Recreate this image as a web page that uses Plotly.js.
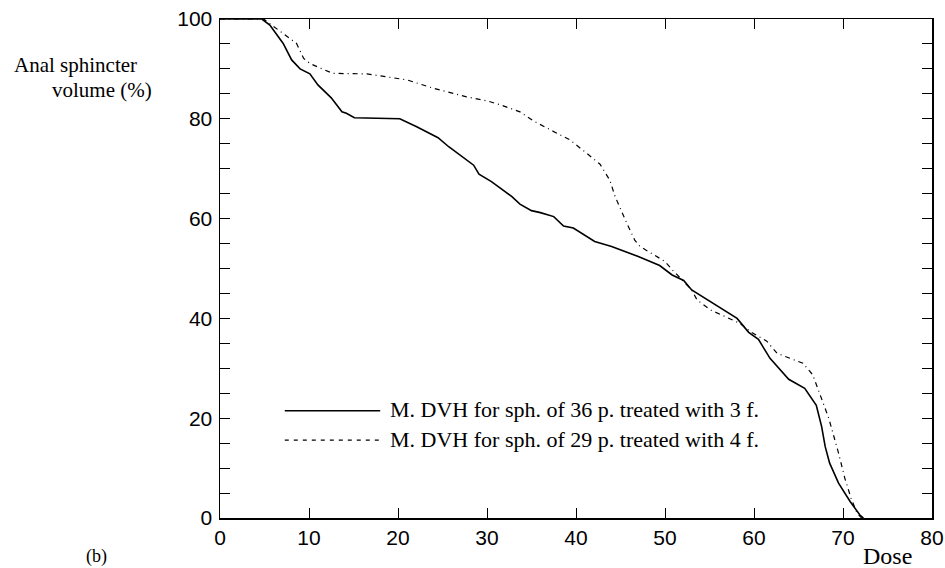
<!DOCTYPE html>
<html>
<head>
<meta charset="utf-8">
<script src="https://cdn.plot.ly/plotly-3.0.1.min.js"></script>
<style>html,body{margin:0;padding:0;background:#fff;}#chart{width:945px;height:568px;}</style>
</head>
<body>
<div id="chart"></div>
<script>
// Mean DVH, 3 fields (solid)
const dose3f = [0, 4.7, 5.6, 7.1, 8.05, 9.0, 10.1, 11.0, 12.5, 13.7, 14.2, 15.1, 20.2, 22.1, 24.5, 25.7, 28.5, 29.1, 30.5, 32.8, 33.7, 35.0, 36.0, 37.5, 38.6, 39.7, 42.1, 44.0, 47.0, 49.4, 50.8, 52.1, 53.0, 55.4, 58.1, 59.4, 60.5, 61.8, 63.9, 65.7, 67.0, 67.6, 68.0, 68.5, 69.5, 70.8, 71.9, 72.3];
const vol3f  = [100, 100, 98.8, 95.1, 91.8, 90.0, 89.0, 86.8, 84.2, 81.4, 81.1, 80.2, 80.0, 78.4, 76.2, 74.4, 70.7, 68.9, 67.4, 64.4, 62.9, 61.6, 61.2, 60.4, 58.5, 58.1, 55.4, 54.4, 52.4, 50.6, 48.7, 47.6, 45.7, 43.0, 40.0, 37.2, 35.8, 32.0, 27.8, 26.0, 22.6, 18.3, 14.3, 11.0, 7.0, 3.3, 0.6, 0];
// Mean DVH, 4 fields (dash-dot)
const dose4f = [0, 4.9, 5.8, 8.6, 9.4, 10.1, 11.2, 12.7, 16.5, 18.7, 21.0, 24.0, 27.7, 30.0, 31.5, 33.7, 35.2, 37.1, 39.3, 41.2, 42.7, 43.8, 44.4, 45.7, 46.6, 47.2, 48.7, 50.0, 50.9, 52.0, 53.0, 53.6, 55.1, 56.6, 58.4, 59.8, 61.4, 62.6, 63.7, 65.5, 66.6, 67.4, 68.4, 69.5, 70.2, 70.9, 71.6, 72.1];
const vol4f  = [100, 100, 98.8, 95.1, 92.1, 91.1, 90.2, 89.1, 89.0, 88.4, 87.8, 86.1, 84.4, 83.6, 82.8, 81.4, 79.6, 77.8, 75.8, 73.1, 70.9, 67.7, 64.4, 59.1, 55.7, 54.4, 52.7, 51.4, 49.6, 47.5, 45.7, 43.7, 41.7, 40.5, 39.0, 37.1, 35.5, 33.0, 32.3, 31.0, 28.7, 25.0, 20.0, 13.0, 8.0, 4.0, 0.9, 0];

const legendLabels = ["M. DVH for sph. of 36 p. treated with 3 f.", "M. DVH for sph. of 29 p. treated with 4 f."];
const xTitle = "Dose";
const yTitleLines = ["Anal sphincter", "volume (%)"];
const panelLabel = "(b)";

const serif = "Liberation Serif, Times New Roman, serif";
const sans = "Liberation Sans, Arial, Helvetica, sans-serif";

const traces = [
  {x: dose3f, y: vol3f, type: "scatter", mode: "lines", name: legendLabels[0],
   line: {color: "#000", width: 1.6}},
  {x: dose4f, y: vol4f, type: "scatter", mode: "lines", name: legendLabels[1],
   line: {color: "#000", width: 1.2, dash: "5px,4px,1px,4px"}}
];

const axisCommon = {
  showline: true, linecolor: "#000", linewidth: 1.5, mirror: "allticks",
  ticks: "inside", ticklen: 10, tickwidth: 1, tickcolor: "#000",
  showgrid: false, zeroline: false,
  tickfont: {family: sans, size: 21, color: "#000"}
};

const layout = {
  width: 945, height: 568,
  margin: {l: 220, r: 13, t: 19, b: 50},
  paper_bgcolor: "#fff", plot_bgcolor: "#fff",
  showlegend: false,
  xaxis: Object.assign({}, axisCommon, {range: [0, 80], dtick: 10, tick0: 0}),
  yaxis: Object.assign({}, axisCommon, {range: [0, 100], dtick: 20, tick0: 0, ticklabelstandoff: 2,
    minor: {dtick: 5, ticks: "inside", ticklen: 10, tickcolor: "#000", tickwidth: 1, showgrid: false}}),
  shapes: [
    {type: "line", xref: "paper", yref: "paper", x0: 0.091, x1: 0.225, y0: 0.215, y1: 0.215,
     line: {color: "#000", width: 1.4}},
    {type: "line", xref: "paper", yref: "paper", x0: 0.091, x1: 0.225, y0: 0.156, y1: 0.156,
     line: {color: "#000", width: 1.2, dash: "4px,5px"}}
  ],
  annotations: [
    {text: legendLabels[0], xref: "paper", yref: "paper", x: 0.236, y: 0.217, xanchor: "left", yanchor: "middle",
     showarrow: false, font: {family: serif, size: 22, color: "#000"}},
    {text: legendLabels[1], xref: "paper", yref: "paper", x: 0.236, y: 0.158, xanchor: "left", yanchor: "middle",
     showarrow: false, font: {family: serif, size: 22, color: "#000"}},
    {text: yTitleLines[0], xref: "paper", yref: "paper", x: -0.292, y: 0.908, xanchor: "left", yanchor: "middle",
     showarrow: false, font: {family: serif, size: 21, color: "#000"}},
    {text: yTitleLines[1], xref: "paper", yref: "paper", x: -0.0925, y: 0.857, xanchor: "right", yanchor: "middle",
     showarrow: false, font: {family: serif, size: 21, color: "#000"}},
    {text: xTitle, xref: "paper", yref: "paper", x: 0.975, y: -0.076, xanchor: "right", yanchor: "middle",
     showarrow: false, font: {family: serif, size: 24, color: "#000"}},
    {text: panelLabel, xref: "paper", yref: "paper", x: -0.173, y: -0.052, xanchor: "center", yanchor: "top",
     showarrow: false, font: {family: serif, size: 18, color: "#000"}}
  ]
};

Plotly.newPlot("chart", traces, layout, {displayModeBar: false, staticPlot: true});
</script>
</body>
</html>
